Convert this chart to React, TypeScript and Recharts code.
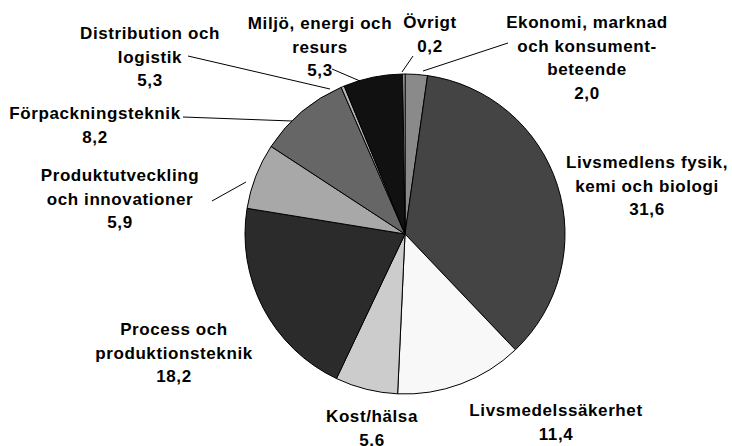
import { PieChart, Pie, Cell } from 'recharts';

// clockwise from 12 o'clock
const categories = [
  'Ekonomi, marknad och konsument-beteende',
  'Livsmedlens fysik, kemi och biologi',
  'Livsmedelssäkerhet',
  'Kost/hälsa',
  'Process och produktionsteknik',
  'Produktutveckling och innovationer',
  'Förpackningsteknik',
  'Distribution och logistik',
  'Miljö, energi och resurs',
  'Övrigt',
];

// values printed in the labels
const printedValues = ['2,0', '31,6', '11,4', '5,6', '18,2', '5,9', '8,2', '5,3', '5,3', '0,2'];

// slice sizes as drawn (the distribution slice is only a sliver in the picture)
const sliceValues = [2.0, 31.6, 11.4, 5.6, 18.2, 5.9, 8.2, 0.3, 5.3, 0.2];

const labelLines = [
  ['Ekonomi, marknad', 'och konsument-', 'beteende'],
  ['Livsmedlens fysik,', 'kemi och biologi'],
  ['Livsmedelssäkerhet'],
  ['Kost/hälsa'],
  ['Process och', 'produktionsteknik'],
  ['Produktutveckling', 'och innovationer'],
  ['Förpackningsteknik'],
  ['Distribution och', 'logistik'],
  ['Miljö, energi och', 'resurs'],
  ['Övrigt'],
];

const fills = ['#8a8a8a', '#444444', '#f8f8f8', '#cccccc', '#2b2b2b', '#a8a8a8', '#666666', '#b3b3b3', '#111111', '#d0d0d0'];

const data = categories.map((name, i) => ({ name, value: sliceValues[i] }));

// label placement: text centre x, first baseline y, optional leader line
const labelPos: { x: number; y: number; leader?: number[] }[] = [
  { x: 587, y: 28, leader: [423, 71, 508, 43] },
  { x: 647, y: 168 },
  { x: 556, y: 416 },
  { x: 372, y: 422 },
  { x: 174, y: 335 },
  { x: 120, y: 181, leader: [212, 201, 246, 182] },
  { x: 95, y: 119, leader: [183, 117, 292, 121] },
  { x: 150, y: 39, leader: [188, 56, 330, 89] },
  { x: 320, y: 29, leader: [332, 69, 360, 81] },
  { x: 430, y: 28, leader: [402, 72, 413, 56] },
];

const STEP = 23.5;

const renderLabel = (props: any) => {
  const i = props.index;
  const pos = labelPos[i];
  const lines = [...labelLines[i], printedValues[i]];
  return (
    <g key={`lbl-${i}`}>
      {pos.leader && (
        <line
          x1={pos.leader[0]}
          y1={pos.leader[1]}
          x2={pos.leader[2]}
          y2={pos.leader[3]}
          stroke="#000"
          strokeWidth={1}
        />
      )}
      <text
        x={pos.x}
        y={pos.y}
        textAnchor="middle"
        fontFamily="'Liberation Sans', Arial, sans-serif"
        fontWeight="bold"
        fontSize={17}
        letterSpacing={0.6}
        fill="#000"
      >
        {lines.map((l, j) => (
          <tspan key={j} x={pos.x} y={pos.y + j * STEP}>
            {l}
          </tspan>
        ))}
      </text>
    </g>
  );
};

export default function App() {
  return (
    <div style={{ position: 'fixed', left: 0, top: 0, width: 732, height: 446, background: '#fff' }}>
      <PieChart width={732} height={446} margin={{ top: 0, right: 0, bottom: 0, left: 0 }}>
        <Pie
          data={data}
          dataKey="value"
          nameKey="name"
          cx={405}
          cy={234}
          outerRadius={160}
          startAngle={90}
          endAngle={-270}
          stroke="#000"
          strokeWidth={1}
          label={renderLabel}
          labelLine={false}
          isAnimationActive={false}
        >
          {data.map((d, i) => (
            <Cell key={d.name} fill={fills[i]} />
          ))}
        </Pie>
      </PieChart>
    </div>
  );
}
